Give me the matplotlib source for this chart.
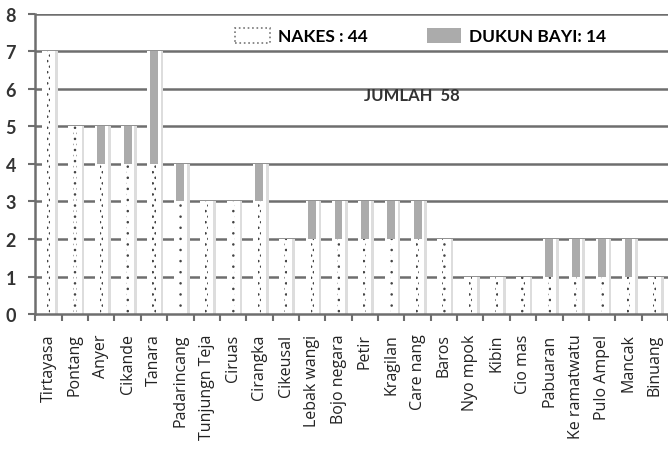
import numpy as np
import matplotlib
matplotlib.use("Agg")
from matplotlib import pyplot as plt
from matplotlib.patches import Patch

kecamatan = ["Tirtayasa", "Pontang", "Anyer", "Cikande", "Tanara", "Padarincang",
             "Tunjungn Teja", "Ciruas", "Cirangka", "Cikeusal", "Lebak wangi",
             "Bojo negara", "Petir", "Kragilan", "Care nang", "Baros", "Nyo mpok",
             "Kibin", "Cio mas", "Pabuaran", "Ke ramatwatu", "Pulo Ampel",
             "Mancak", "Binuang"]
nakes = [7, 5, 4, 4, 4, 3, 3, 3, 3, 2, 2, 2, 2, 2, 2, 2, 1, 1, 1, 1, 1, 1, 1, 1]
dukun_bayi = [0, 0, 1, 1, 3, 1, 0, 0, 1, 0, 1, 1, 1, 1, 1, 0, 0, 0, 0, 1, 1, 1, 1, 0]
legend_labels = ["NAKES : 44", "DUKUN BAYI: 14"]
jumlah_text = "JUMLAH  58"

plt.rcParams['font.family'] = ['Lato', 'DejaVu Sans']

x = np.arange(len(kecamatan))
nakes = np.array(nakes)
dukun_bayi = np.array(dukun_bayi)
total = nakes + dukun_bayi

fig = plt.figure(figsize=(6.68, 4.52), dpi=100)
ax = fig.add_axes([0.053, 0.303, 0.947, 0.664])

# grid lines sit behind the bars
for y in range(1, 9):
    ax.axhline(y, color='#6e6e6e', lw=1.8, zorder=0)

# soft shadow on the right of each bar
ax.bar(x + 0.1, total, width=0.5, color='#dddddd', zorder=1)
ax.bar(x, total, width=0.5, color='white', zorder=2)
# dotted filling of the NAKES part
ax.bar(x, nakes, width=0.12, facecolor='none', edgecolor='#444444',
       linewidth=0, hatch='...', zorder=3)
# DUKUN BAYI part stacked on top
ax.bar(x, dukun_bayi, bottom=nakes, width=0.3, color='#ababab', zorder=3)

ax.set_xlim(-0.5, 23.26)
ax.set_ylim(0, 8)

ax.set_yticks(range(0, 9))
ax.set_yticklabels([str(v) for v in range(0, 9)], fontsize=13, fontweight='bold',
                   color='#333333')
ax.tick_params(axis='y', length=5, width=1.5, color='#6e6e6e', pad=9)

ax.set_xticks(x)
ax.set_xticklabels(kecamatan, rotation=90, fontsize=11.5, color='#222222',
                   family=['Open Sans', 'DejaVu Sans'])
ax.set_xticks(np.arange(-0.5, len(kecamatan), 1), minor=True)
ax.tick_params(axis='x', which='major', length=0, pad=14)
ax.tick_params(axis='x', which='minor', length=5, width=1.5, color='#6e6e6e')

for side in ['top', 'right']:
    ax.spines[side].set_visible(False)
for side in ['left', 'bottom']:
    ax.spines[side].set_color('#6e6e6e')
    ax.spines[side].set_linewidth(1.8)

handles = [Patch(facecolor='white', edgecolor='#777777', linestyle=':', linewidth=1.2),
           Patch(facecolor='#ababab', edgecolor='none')]
ax.legend(handles, legend_labels, ncol=2, frameon=False,
          loc='center', bbox_to_anchor=(0.63, 0.918), bbox_transform=fig.transFigure,
          prop={'weight': 'bold', 'size': 12.5}, handlelength=2.0, handleheight=1.0,
          handletextpad=0.45, columnspacing=3.4)

ax.text(13.8, 5.85, jumlah_text, fontsize=12, fontweight='bold', color='#333333',
        ha='center', va='center', zorder=4)

fig.savefig('out.png', dpi=100)
